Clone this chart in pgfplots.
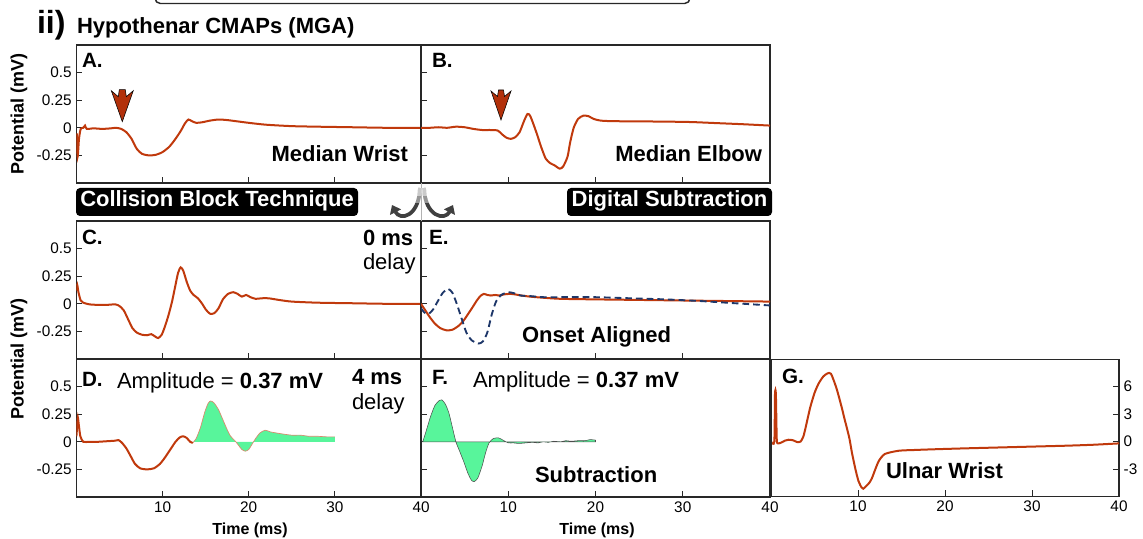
\documentclass[border=0pt]{standalone}
\usepackage{pgfplots}
\pgfplotsset{compat=1.18}
\usepackage{pgfplotstable}
\usepackage{fontspec}
\setmainfont{Liberation Sans}
\usetikzlibrary{arrows.meta}
\definecolor{tracecol}{RGB}{192,57,12}
\definecolor{arrowred}{RGB}{178,48,10}
\definecolor{subgreen}{RGB}{88,245,155}
\definecolor{navyc}{RGB}{30,55,105}
\definecolor{framec}{RGB}{40,40,40}

\pgfplotsset{
  panel/.style={scale only axis, anchor=south west, height=103.5pt, xmin=0, xmax=40, ymin=-0.5, ymax=0.75,
    axis line style={draw=framec, line width=0.8pt},
    tick align=inside, xtick={10,20,30}, ytick={-0.25,0,0.25,0.5},
    xtick pos=left, ytick pos=left,
    major tick length=4.5pt, tick style={draw=framec, line width=0.7pt},
    xticklabels={}, yticklabels={},
    tick label style={font=\fontsize{11.5}{13}\selectfont},
    /pgf/number format/assume math mode=true},
  tr/.style={color=tracecol, line width=1.5pt, smooth, tension=0.4, no markers},
}

\pgfplotstableread{
t v
0.05 -0.05
0.15 -0.26
0.3 -0.1
0.5 -0.01
0.8 0.0
1.0 0.02
1.2 -0.01
2 -0.005
3 -0.01
4 -0.005
4.6 0.0
5.2 -0.01
5.8 -0.04
6.4 -0.1
7.0 -0.19
7.6 -0.235
8.4 -0.25
9.2 -0.245
10.0 -0.22
10.8 -0.17
11.5 -0.1
12.1 -0.03
12.6 0.04
13.0 0.075
13.4 0.06
13.9 0.045
14.6 0.05
15.5 0.065
16.5 0.075
17.5 0.07
18.5 0.06
20 0.045
22 0.028
25 0.015
28 0.01
32 0.005
36 0.0
40 0.0
}\dataA

\pgfplotstableread{
t v
0 0.0
1 0.0
2 0.005
3 0.0
4 0.01
5 0.005
6 -0.01
7 -0.02
8 -0.02
8.8 -0.025
9.3 -0.06
9.8 -0.09
10.3 -0.1
10.8 -0.085
11.3 -0.04
11.8 0.06
12.2 0.125
12.5 0.11
12.9 0.03
13.3 -0.06
13.8 -0.18
14.3 -0.28
14.8 -0.32
15.3 -0.34
15.9 -0.37
16.3 -0.35
16.8 -0.26
17.1 -0.13
17.5 0.0
18.0 0.08
18.6 0.11
19.2 0.105
19.8 0.08
20.6 0.065
22 0.06
25 0.058
28 0.056
31 0.052
34 0.042
37 0.032
40 0.02
}\dataB

\pgfplotstableread{
t v
0 0.12
0.1 0.17
0.25 0.1
0.5 0.03
0.8 0.01
1.5 -0.005
2.5 -0.01
3.5 -0.01
4.5 -0.005
5.0 -0.02
5.5 -0.06
6.0 -0.14
6.5 -0.22
7.0 -0.26
7.6 -0.28
8.2 -0.285
8.7 -0.275
9.2 -0.3
9.5 -0.31
9.9 -0.28
10.3 -0.2
10.7 -0.1
11.1 0.02
11.5 0.17
11.8 0.28
12.1 0.33
12.4 0.3
12.8 0.2
13.2 0.12
13.6 0.08
14.1 0.05
14.6 0.0
15.0 -0.05
15.5 -0.09
16.0 -0.085
16.5 -0.04
17.0 0.04
17.6 0.09
18.2 0.105
18.7 0.09
19.2 0.065
19.7 0.08
20.2 0.06
20.8 0.045
21.5 0.05
22.3 0.05
23.5 0.035
25 0.02
28 0.01
32 0.005
36 0.0
40 0.0
}\dataC

\pgfplotstableread{
t v
0 0.0
0.5 -0.06
1.0 -0.12
1.6 -0.18
2.2 -0.22
2.9 -0.24
3.6 -0.235
4.3 -0.2
4.9 -0.15
5.5 -0.08
6.0 -0.02
6.4 0.03
6.8 0.07
7.2 0.09
7.6 0.08
8.0 0.075
8.5 0.08
9.0 0.075
9.5 0.085
10.2 0.09
10.8 0.085
11.5 0.075
12.5 0.065
14 0.055
16 0.045
20 0.04
25 0.035
30 0.03
35 0.025
40 0.02
}\dataEred

\pgfplotstableread{
t v
0 -0.04
0.4 -0.08
0.9 -0.09
1.4 -0.05
1.9 0.02
2.5 0.1
3.1 0.135
3.6 0.1
4.1 0.0
4.6 -0.12
5.2 -0.26
5.8 -0.33
6.6 -0.36
7.1 -0.34
7.6 -0.26
8.1 -0.1
8.6 0.02
9.2 0.08
10.0 0.105
10.7 0.095
11.4 0.075
12.5 0.07
14 0.06
16 0.06
20 0.06
24 0.05
28 0.04
32 0.025
36 0.005
40 -0.015
}\dataEblue

\pgfplotstableread{
t v
0 0.05
0.1 0.15
0.17 0.22
0.3 0.14
0.46 0.05
0.8 0.0
1.5 0.0
2.5 0.0
3.5 0.005
4.5 0.01
4.9 0.015
5.3 -0.01
5.8 -0.06
6.3 -0.13
6.8 -0.2
7.4 -0.24
8.2 -0.25
9.0 -0.24
9.7 -0.2
10.3 -0.14
10.9 -0.07
11.5 0.0
12.0 0.04
12.4 0.05
12.8 0.035
13.2 0.0
13.5 -0.01
}\dataDred

\pgfplotstableread{
t v
13.5 -0.01
13.9 0.03
14.4 0.13
14.9 0.27
15.3 0.35
15.6 0.37
16.0 0.35
16.5 0.29
17.0 0.2
17.5 0.11
17.9 0.05
18.4 0.01
18.8 -0.03
19.2 -0.07
19.6 -0.085
20.0 -0.07
20.4 -0.02
20.8 0.03
21.3 0.08
21.9 0.105
22.5 0.09
23.2 0.08
24 0.07
25 0.06
26 0.06
27 0.05
28 0.05
29 0.045
30 0.045
}\dataDgreen

\pgfplotstableread{
t v
0.2 0.0
0.6 0.1
1.1 0.23
1.6 0.33
2.1 0.375
2.4 0.38
2.8 0.34
3.2 0.26
3.6 0.13
4.0 0.0
4.4 -0.08
4.9 -0.18
5.4 -0.29
5.8 -0.35
6.1 -0.36
6.5 -0.33
7.0 -0.22
7.4 -0.1
7.8 -0.01
8.3 0.03
8.9 0.035
9.4 0.015
10.0 -0.01
10.6 -0.01
11.2 -0.015
12 -0.01
12.8 -0.005
13.4 -0.01
14 0.0
14.6 -0.005
15.2 0.005
16 0.0
16.6 0.01
17.2 0.005
18 0.01
18.8 0.01
19.4 0.02
20 0.015
}\dataF

\pgfplotstableread{
t v
0 0.0
0.38 0.0
0.46 5.2
0.56 5.2
0.66 0.3
0.8 -0.2
1.2 -0.1
1.6 0.1
2.0 0.2
2.5 0.15
3.0 -0.05
3.4 0.0
3.7 0.5
3.9 1.2
4.5 3.7
5.0 5.3
5.45 6.3
6.0 7.1
6.5 7.45
6.9 7.4
7.5 5.9
8.0 4.2
8.5 2.3
9.0 0.4
9.3 -1.2
9.7 -3.0
10.05 -4.3
10.4 -5.0
10.6 -5.15
10.9 -4.9
11.3 -4.5
11.6 -4.0
12.0 -3.0
12.4 -2.1
13.1 -1.35
14.7 -1.0
16.5 -0.92
18.5 -0.85
22 -0.75
26 -0.65
30 -0.55
34 -0.45
37 -0.35
40 -0.2
}\dataG

\begin{document}
\begin{tikzpicture}
\useasboundingbox (0pt,0pt) rectangle (857.25pt,404.25pt);

% A
\begin{axis}[panel, at={(57.3pt,267pt)}, width=258.5pt, yticklabels={-0.25,0,0.25,0.5}]
\addplot[tr] table {\dataA};
\end{axis}
% B
\begin{axis}[panel, at={(315.75pt,267pt)}, width=261.75pt]
\addplot[tr] table {\dataB};
\end{axis}
% C
\begin{axis}[panel, at={(57.3pt,135pt)}, width=258.5pt, yticklabels={-0.25,0,0.25,0.5}]
\addplot[tr] table {\dataC};
\end{axis}
% E
\begin{axis}[panel, at={(315.75pt,135pt)}, width=261.75pt]
\addplot[tr] table {\dataEred};
\addplot[color=navyc, line width=1.4pt, smooth, tension=0.4, no markers, dash pattern=on 5pt off 3pt] table {\dataEblue};
\end{axis}
% D
\begin{axis}[panel, at={(57.3pt,31.5pt)}, width=258.5pt, yticklabels={-0.25,0,0.25,0.5},
  xtick={10,20,30,40}, xticklabels={10,20,30,40}]
\addplot[fill=subgreen, draw=none, smooth, tension=0.4, no markers] table {\dataDgreen} \closedcycle;
\addplot[color=tracecol!60, line width=0.5pt, smooth, tension=0.4, no markers] table {\dataDgreen};
\addplot[tr] table {\dataDred};
\end{axis}
% F
\begin{axis}[panel, at={(315.75pt,31.5pt)}, width=261.75pt,
  xtick={10,20,30,40}, xticklabels={10,20,30,40}]
\addplot[fill=subgreen, draw=black!70, line width=0.4pt, smooth, tension=0.4, no markers] table {\dataF} \closedcycle;
\end{axis}
% G
\begin{axis}[panel, at={(578.25pt,31.875pt)}, width=261pt, height=103pt,
  ymin=-6, ymax=9, ytick={-3,0,3,6}, yticklabels={-3,0,3,6}, ytick pos=right, yticklabel pos=right,
  xtick={10,20,30,40}, xticklabels={10,20,30,40}]
\addplot[tr] table {\dataG};
\draw[line width=1.6pt, framec] (rel axis cs:0,0) -- (rel axis cs:0,1);
\end{axis}

\begin{scope}[x=0.75pt,y=0.75pt, lbl/.style={inner sep=0pt, outer sep=0pt}]
% connector and top box
\draw[black!30, line width=0.5pt] (421.5,356) -- (421.5,318);
\draw[line width=1.1pt, framec, rounded corners=4pt] (155,535.5) rectangle (690,575);

% titles
\node[lbl, anchor=base west, font=\fontsize{24}{26}\bfseries\selectfont] at (37,505) {ii)};
\node[lbl, anchor=base west, font=\fontsize{16.5}{18}\bfseries\selectfont] at (77,505) {Hypothenar CMAPs (MGA)};

% y labels
\node[lbl, rotate=90, font=\fontsize{13.5}{15}\bfseries\selectfont] at (19,425) {Potential (mV)};
\node[lbl, rotate=90, font=\fontsize{13.5}{15}\bfseries\selectfont] at (19,180) {Potential (mV)};
% x labels
\node[lbl, anchor=base, font=\fontsize{12}{14}\bfseries\selectfont] at (250,4) {Time (ms)};
\node[lbl, anchor=base, font=\fontsize{12}{14}\bfseries\selectfont] at (597,4) {Time (ms)};

% panel letters and labels
\begin{scope}[every node/.style={lbl, font=\fontsize{16.5}{18}\selectfont}]
\node[anchor=base west, font=\fontsize{15.5}{18}\bfseries\selectfont] at (82,471) {A.};
\node[anchor=base east, font=\fontsize{16.5}{18}\bfseries\selectfont] at (408,377) {Median Wrist};
\node[anchor=base west, font=\fontsize{15.5}{18}\bfseries\selectfont] at (432,471) {B.};
\node[anchor=base east, font=\fontsize{16.5}{18}\bfseries\selectfont] at (762,377) {Median Elbow};
\node[anchor=base west, font=\fontsize{15.5}{18}\bfseries\selectfont] at (82,294) {C.};
\node[anchor=base west, font=\fontsize{16.5}{18}\bfseries\selectfont] at (363,293) {0 ms};
\node[anchor=base west] at (363,269) {delay};
\node[anchor=base west, font=\fontsize{15.5}{18}\bfseries\selectfont] at (429,294) {E.};
\node[anchor=base west, font=\fontsize{16.5}{18}\bfseries\selectfont] at (522,196) {Onset Aligned};
\node[anchor=base west, font=\fontsize{15.5}{18}\bfseries\selectfont] at (82,152.3) {D.};
\node[anchor=base west] at (117,150.7) {Amplitude = \textbf{0.37 mV}};
\node[anchor=base west, font=\fontsize{16.5}{18}\bfseries\selectfont] at (352,154) {4 ms};
\node[anchor=base west] at (352,129) {delay};
\node[anchor=base west, font=\fontsize{15.5}{18}\bfseries\selectfont] at (432,154) {F.};
\node[anchor=base west] at (473,151) {Amplitude = \textbf{0.37 mV}};
\node[anchor=base west, font=\fontsize{16.5}{18}\bfseries\selectfont] at (535,56) {Subtraction};
\node[anchor=base west, font=\fontsize{15.5}{18}\bfseries\selectfont] at (782,155) {G.};
\node[anchor=base west, font=\fontsize{16.5}{18}\bfseries\selectfont] at (886,60) {Ulnar Wrist};
\end{scope}

% black banners
\fill[black, rounded corners=3pt] (76,323) rectangle (358,351);
\node[lbl, anchor=base, text=white, font=\fontsize{16.5}{18}\bfseries\selectfont] at (217,332.3) {Collision Block Technique};
\fill[black, rounded corners=3pt] (567,323) rectangle (772,351);
\node[lbl, anchor=base, text=white, font=\fontsize{16.5}{18}\bfseries\selectfont] at (669.5,332.3) {Digital Subtraction};

% curved arrows (grey, lighter towards the top)
\draw[line width=2.8pt, black!75, -{Triangle[length=6pt,width=9pt]}] (420,351) .. controls (419,322) and (400,318) .. (392,334);
\draw[line width=2.8pt, black!75, -{Triangle[length=6pt,width=9pt]}] (424,351) .. controls (425,322) and (445,318) .. (453,334);
\begin{scope}
\clip (410,336) rectangle (436,352);
\draw[line width=3.2pt, white, opacity=0.45] (420,351) .. controls (419,322) and (400,318) .. (392,334);
\draw[line width=3.2pt, white, opacity=0.45] (424,351) .. controls (425,322) and (445,318) .. (453,334);
\end{scope}
\begin{scope}
\clip (410,343) rectangle (436,352);
\draw[line width=3.2pt, white, opacity=0.5] (420,351) .. controls (419,322) and (400,318) .. (392,334);
\draw[line width=3.2pt, white, opacity=0.5] (424,351) .. controls (425,322) and (445,318) .. (453,334);
\end{scope}

% red arrowheads
\filldraw[fill=arrowred, draw=black, line width=0.4pt] (122.3,417.3) -- ++(11,31) -- ++(-7,-6) -- ++(-1,7) -- ++(-6,0) -- ++(-1,-7) -- ++(-7,6) -- cycle;
\filldraw[fill=arrowred, draw=black, line width=0.4pt] (501,419) -- ++(10,29) -- ++(-6.5,-5.5) -- ++(-1,6.5) -- ++(-5,0) -- ++(-1,-6.5) -- ++(-6.5,5.5) -- cycle;
\end{scope}
\end{tikzpicture}
\end{document}
